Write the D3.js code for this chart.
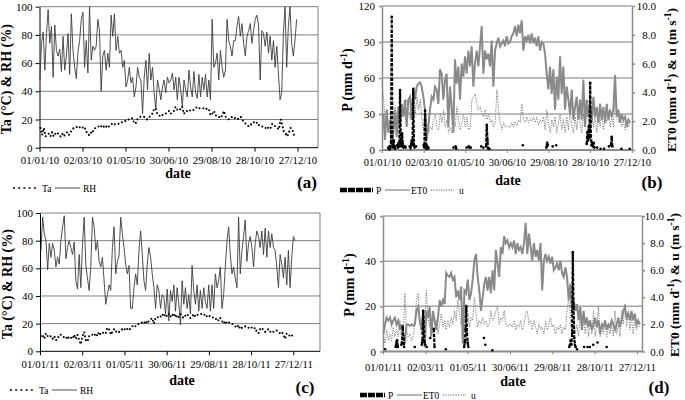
<!DOCTYPE html>
<html><head><meta charset="utf-8">
<script src="https://cdn.jsdelivr.net/npm/d3@7"></script>
<style>
body{margin:0;background:#fff}
svg{display:block}
text{font-family:"Liberation Serif","Times New Roman",serif;fill:#000}
</style>
</head><body>
<svg id="chart" width="685" height="400"></svg>
<script>
// ---------------- DATA ----------------
const tickLabels2010 = ["01/01/10","02/03/10","01/05/10","30/06/10","29/08/10","28/10/10","27/12/10"];
const tickLabels2011 = ["01/01/11","02/03/11","01/05/11","30/06/11","29/08/11","28/10/11","27/12/11"];
const taRhTicks = [0,20,40,60,80,100];
const pTicks2010 = [0,30,60,90,120];
const pTicks2011 = [0,20,40,60];
const et0Ticks = [0,2,4,6,8,10];

// Each daily-ish series: readings in time order, spanning the [first, last] day-of-year given.
const rhA2010 = [48,74,82,55,81,98,74,86,50,87,69,65,70,54,79,55,65,81,52,95,69,57,49,68,76,91,96,57,76,53,100,62,72,69,72,91,83,40,65,69,55,67,57,94,79,95,69,79,67,69,57,62,43,48,57,46,50,36,43,57,50,48,24,50,62,41,67,48,57,39,27,48,42,34,43,48,39,50,46,
 48,53,41,50,34,50,41,29,48,41,36,55,43,36,54,39,35,52,36,50,41,52,36,48,34,91,57,60,67,48,69,57,50,55,91,76,72,65,76,76,86,93,79,88,74,65,79,83,88,74,83,91,94,87,48,83,81,72,82,67,79,62,76,57,72,53,34,39,81,100,57,86,100,74,65,76,91];
const rhA2010Days = [0.5, 358.8];
const taA2010 = [14,9,14,8,9,10,8,11,8,10,11,9,8,10,8,10,11,9,11,13,14,14,15,14,15,14,15,13,10,9,11,10,13,14,15,15,16,14,15,14,16,15,16,17,16,17,17,17,18,18,18,19,20,20,20,21,18,17,20,21,22,22,22,21,20,21,23,24,27,28,24,23,22,23,24,24,25,26,
 24,25,26,29,27,28,27,29,24,26,26,27,26,26,27,28,29,28,28,28,28,27,28,27,23,24,26,23,22,22,21,23,26,22,21,20,21,22,21,21,20,21,22,20,18,17,16,15,16,18,18,17,18,16,15,15,14,14,13,15,14,17,16,15,14,13,20,16,11,10,8,11,14,13,9,8];
const taA2010Days = [1.4, 357.4];

const et0B2010 = [2.5,0.7,2.8,1.2,2.1,0.5,1.2,2.8,0.9,3.0,1.6,3.2,2.3,3.5,1.6,3.5,3.7,2.1,4.2,3.5,4.4,4.6,4.7,4.4,3.7,2.8,0.7,1.6,2.8,3.7,3.5,4.4,4.2,3.2,5.6,5.3,3.5,4.9,5.3,1.6,4.4,3.0,1.2,6.3,4.6,5.8,3.5,6.0,5.1,6.5,5.3,6.9,5.8,7.2,4.4,6.0,6.9,5.8,7.2,8.6,5.3,6.9,6.3,6.7,5.8,7.6,4.4,6.9,7.4,7.8,7.2,7.4,7.6,7.2,7.9,7.4,
 7.5,7.9,8.1,8.6,7.9,8.7,8.1,9.0,6.9,7.9,7.6,8.0,7.4,8.1,7.4,7.8,7.2,7.9,6.9,7.5,7.4,6.7,5.3,4.2,5.8,3.9,5.6,2.8,5.1,3.5,6.5,3.9,5.8,2.8,4.4,3.5,2.5,4.2,2.1,3.0,3.7,2.1,3.5,2.1,4.9,1.6,3.5,2.3,3.2,1.9,3.7,2.3,3.0,1.9,3.2,2.1,3.0,1.9,3.2,2.1,2.8,2.3,2.8,5.2,2.3,2.8,1.9,2.5,2.1,2.3,1.6,2.1,1.9];
const et0B2010Days = [1.9, 357.5];
const uB2010 = [4.6,3.5,1.6,2.8,1.2,2.3,1.2,1.6,3.0,1.9,2.8,2.1,3.2,2.3,3.0,3.5,2.8,2.1,3.5,3.9,2.5,3.7,2.8,3.5,2.1,1.4,2.5,1.9,1.2,1.6,1.4,2.1,2.5,1.6,1.4,2.5,1.9,2.8,1.6,2.1,1.2,1.6,1.2,2.1,1.6,3.0,2.1,1.4,1.9,2.5,1.6,2.3,1.4,1.6,3.5,3.7,3.9,3.2,2.8,3.0,2.5,2.3,2.8,2.1,2.5,1.9,2.1,1.6,1.9,4.2,2.8,1.9,1.4,1.9,1.6,1.7,1.6,
 1.6,1.9,1.6,2.0,1.7,2.1,1.9,3.2,2.1,1.9,2.3,1.9,2.2,2.0,2.3,1.9,2.3,1.7,2.1,1.9,2.3,1.4,2.8,1.9,1.2,2.1,1.6,2.3,1.2,1.9,2.5,1.4,2.1,1.2,2.3,1.4,2.8,1.6,1.2,2.3,1.4,2.8,1.9,1.2,2.5,1.6,3.2,2.1,1.4,2.5,1.6,2.3,1.2,2.5,1.6,2.8,1.4,2.3,1.9,2.5,1.6,2.3,1.6,3.7,2.3,1.9,2.3,1.6,2.1,1.4,1.9,1.6,1.9];
const uB2010Days = [0, 357.5];
// precipitation events: [day of year, mm]
const pB2010 = [[9,2],[10,1],[11,3],[12,2],[13,6],[14,111],[15,4],[16,2],[17,8],[18,3],[19,1],[22,4],[23,2],[24,6],[25,3],[26,50],[27,8],[28,3],[29,14],[30,5],[31,2],[33,3],[34,2],[40,3],[41,2],[42,5],[43,8],[44,4],[45,51],[46,5],[47,2],[49,3],[60,4],[61,2],[62,33],[63,10],[64,2],[65,3],[66,1],[67,2],[103,2],[106,3],[107,1],[122,2],[125,3],[126,2],[128,2],[143,3],[146,2],[150,3],[151,21],[152,8],[153,1],[155,1],[203,4],[237,2],[238,6],[239,4],[246,3],[251,4],[295,5],[296,15],[297,8],[298,20],[299,10],[300,56],[301,12],[302,4],[303,6],[304,3],[305,6],[306,2],[310,2],[315,1],[320,1],[327,3],[330,4],[331,11],[332,3],[345,1],[357,1]];

const rhC2011 = [73,97,85,80,59,78,68,78,73,61,68,63,80,90,98,67,75,80,75,70,79,51,45,70,46,78,97,63,53,44,61,97,90,73,80,65,61,68,51,34,41,48,44,75,90,56,65,69,97,85,75,63,56,62,31,31,46,56,48,73,87,70,51,44,63,75,68,56,46,31,48,44,31,41,39,27,45,22,44,36,
 48,29,46,34,19,51,34,46,31,41,27,62,44,34,48,29,44,31,46,36,31,48,29,48,31,56,46,51,61,31,41,61,80,90,70,56,61,53,46,97,56,73,83,95,65,78,83,75,61,78,87,83,75,87,70,89,68,87,75,85,75,73,61,46,70,63,53,68,48,73,46,68,83,80];
const rhC2011Days = [1.4, 362.5];
const taC2011 = [11,12,9,13,11,10,11,9,11,8,9,12,12,11,10,9,11,9,10,9,12,9,12,8,5,11,14,8,7,11,12,12,11,13,11,14,12,13,14,13,17,16,12,14,16,14,15,14,15,16,15,17,16,15,17,18,19,18,19,20,20,21,20,22,20,22,23,24,20,24,25,24,25,27,25,27,25,27,25,27,
 25,27,24,25,27,25,24,26,27,25,24,25,27,25,26,27,27,27,26,27,25,26,25,25,24,23,24,22,24,22,20,22,20,21,20,20,19,18,17,19,16,17,17,18,17,17,18,17,16,17,14,13,16,17,15,14,15,16,14,15,14,14,15,14,13,14,12,9,13,12,11,12,9];
const taC2011Days = [1.4, 360.1];

const et0D2011 = [1.3,2.0,2.5,2.3,2.5,2.0,2.3,2.5,2.0,2.3,1.6,2.0,1.3,0.6,2.0,2.0,1.9,2.0,1.9,2.0,3.0,3.3,2.3,1.6,3.0,0.3,3.0,2.5,3.3,1.1,3.0,2.3,1.6,2.5,3.8,3.3,3.8,3.5,5.8,5.6,5.5,5.8,5.3,5.5,4.0,4.5,3.8,4.8,0.6,4.5,4.3,5.3,3.8,4.3,5.3,6.7,7.2,5.5,4.5,3.0,4.0,5.0,5.5,4.5,5.5,4.3,6.0,4.5,7.5,6.5,5.5,7.7,7.2,8.5,8.0,8.2,7.7,
 8.0,7.7,8.2,7.2,8.0,7.5,7.7,7.2,8.0,9.5,7.2,8.7,7.7,6.7,8.0,7.0,7.5,6.7,8.0,4.5,6.7,7.2,6.7,7.0,6.5,7.0,6.0,6.2,6.5,6.0,6.7,5.8,5.5,6.2,5.5,3.8,5.0,2.8,3.8,3.0,3.5,2.3,3.3,1.6,3.0,2.0,2.5,1.8,2.3,1.6,2.0,2.5,1.8,2.3,1.3,2.0,1.8,2.3,1.6,2.0,1.8,2.3,2.0,1.6,2.0,2.5,1.8,2.3,3.0,3.3,2.5,2.8,2.3,3.0,2.3,2.8,2.0,2.3,2.0];
const et0D2011Days = [0.5, 364];
const uD2011 = [1.1,0.6,1.6,0.8,1.3,0.8,1.8,1.1,1.6,1.1,2.3,0.8,1.3,4.3,1.6,1.1,1.3,0.8,1.1,2.0,3.8,4.3,2.3,1.3,3.0,2.0,4.5,2.5,1.8,1.6,3.0,2.0,2.3,1.3,2.0,2.8,1.8,2.3,1.6,2.3,1.8,2.5,2.0,3.0,2.3,3.8,2.8,2.0,3.0,2.3,3.5,3.0,1.8,2.5,2.3,4.0,2.8,1.8,2.3,2.0,2.5,2.0,2.3,1.8,2.0,3.0,2.3,2.5,3.0,3.3,2.0,2.5,2.3,3.0,2.0,1.8,2.0,
 2.0,1.8,2.3,1.6,2.0,1.8,2.3,1.6,2.0,2.8,3.0,2.0,2.3,1.6,2.3,1.8,1.3,2.0,1.6,1.8,1.3,2.3,1.6,2.0,2.5,1.8,2.0,1.3,1.8,1.6,2.0,1.3,1.8,1.6,3.0,4.0,2.5,1.1,2.3,1.3,2.0,1.1,3.0,1.6,2.3,1.3,2.5,1.1,2.3,1.3,3.0,1.1,1.8,3.3,1.1,2.0,1.3,2.3,1.1,1.8,1.3,2.0,1.1,3.0,1.3,2.0,1.1,3.0,2.0,3.5,1.8,3.0,1.6,2.5,1.3,2.3,1.6,2.0,1.8];
const uD2011Days = [0.5, 364];
const pD2011 = [[3,1],[18,2],[19,4],[20,5],[21,2],[26,3],[27,4],[28,11],[29,6],[30,2],[45,2],[55,3],[56,5],[57,18],[58,9],[59,4],[60,3],[62,2],[67,6],[72,10],[73,2],[89,1],[115,2],[116,4],[117,10],[118,20],[119,8],[120,4],[121,2],[143,6],[145,3],[155,0.5],[264,2],[265,3],[266,5],[267,3],[268,8],[269,44],[270,20],[271,6],[272,3],[273,2],[275,1],[285,2],[290,2],[293,2],[298,3],[304,4],[317,2]];

// ---------------- HELPERS ----------------
const FONT = "'Liberation Serif','Times New Roman',serif";
const svg = d3.select("#chart");
svg.append("rect").attr("width",685).attr("height",400).attr("fill","#fff");
const parseLbl = d3.timeParse("%d/%m/%y");
const fmtLbl = d3.timeFormat("%d/%m/%y");
const DAY = 864e5;
function spread(vals, days, year){
  const t0 = new Date(year,0,1).getTime(), n = vals.length;
  return vals.map((v,i)=>({date:new Date(t0+(days[0]+(days[1]-days[0])*i/(n-1))*DAY), v}));
}
function events(pairs, year){
  const t0 = new Date(year,0,1).getTime();
  return pairs.map(([d,v])=>({day:d, date:new Date(t0+d*DAY), v}));
}
function segments(ev){
  const segs=[]; let cur=[];
  ev.forEach((e,i)=>{ if(i>0 && e.day-ev[i-1].day>1){segs.push(cur);cur=[];} cur.push(e); });
  if(cur.length) segs.push(cur);
  return segs;
}
function styleAxis(g, size){
  g.attr("font-family", FONT).attr("font-size", size);
  g.selectAll("text").attr("font-family", FONT).style("font-family", FONT, "important")
    .style("font-size", size+"px").attr("fill","#000");
}
function rotTitle(g, x, y, parts, size){
  const t = g.append("text").attr("transform",`translate(${x},${y}) rotate(-90)`)
    .attr("text-anchor","middle").style("font-weight","bold").style("font-size",size+"px");
  parts.forEach(p=>{
    if(p.sup){ t.append("tspan").attr("dy",-5).style("font-size",(size-4)+"px").text(p.t); }
    else if(p.after){ t.append("tspan").attr("dy",5).text(p.t); }
    else t.append("tspan").text(p.t);
  });
}

// ---------------- PANEL (a)/(c): Ta & RH ----------------
function taRhPanel(L, labels, rh, ta, letter){
  const g = svg.append("g");
  const lblDates = labels.map(parseLbl);
  const x = d3.scaleTime().domain([lblDates[0], lblDates[lblDates.length-1]]).range([L.x0, L.xLast]);
  const y = d3.scaleLinear().domain([0,100]).range([L.yB, L.yT]);
  taRhTicks.filter(v=>v>0).forEach(v=>{
    g.append("line").attr("x1",L.x0).attr("x2",L.xR).attr("y1",y(v)).attr("y2",y(v))
      .attr("stroke","#7f7f7f").attr("stroke-width",1);
  });
  g.append("line").attr("x1",L.xR).attr("x2",L.xR).attr("y1",L.yT).attr("y2",L.yB).attr("stroke","#7f7f7f");
  const ya = g.append("g").attr("transform",`translate(${L.x0},0)`)
    .call(d3.axisLeft(y).tickValues(taRhTicks).tickSize(4).tickSizeOuter(0).tickPadding(3));
  ya.select(".domain").attr("stroke","#000");
  styleAxis(ya, 11);
  const xa = g.append("g").attr("transform",`translate(0,${L.yB})`)
    .call(d3.axisBottom(x).tickValues(lblDates).tickFormat(fmtLbl).tickSize(4).tickSizeOuter(0).tickPadding(5));
  xa.select(".domain").remove();
  styleAxis(xa, 10.8);
  g.append("line").attr("x1",L.x0).attr("x2",L.xR).attr("y1",L.yB).attr("y2",L.yB).attr("stroke","#000");
  const line = d3.line().x(d=>x(d.date)).y(d=>y(d.v));
  g.append("path").datum(rh).attr("d",line).attr("fill","none").attr("stroke","#3c3c3c").attr("stroke-width",0.9);
  g.append("path").datum(ta).attr("d",line).attr("fill","none").attr("stroke","#000")
    .attr("stroke-width",2.1).attr("stroke-linecap","round").attr("stroke-dasharray","0,3.9");
  rotTitle(g, L.titleX, (L.yT+L.yB)/2+2, [{t:"Ta (°C) & RH (%)"}], 14);
  g.append("text").attr("x",L.dateX).attr("y",L.dateY).attr("text-anchor","middle")
    .style("font-weight","bold").style("font-size","14px").text("date");
  g.append("text").attr("x",L.letterX).attr("y",L.letterY).attr("text-anchor","middle")
    .style("font-weight","bold").style("font-size","17px").text(letter);
  // legend
  const ly = L.legY;
  g.append("line").attr("x1",L.legX).attr("x2",L.legX+26).attr("y1",ly).attr("y2",ly)
    .attr("stroke","#000").attr("stroke-width",1.6).attr("stroke-dasharray","2,3.2");
  g.append("text").attr("x",L.legX+29).attr("y",ly+3.5).style("font-size","9.5px").text("Ta");
  g.append("line").attr("x1",L.legX+42).attr("x2",L.legX+67).attr("y1",ly).attr("y2",ly)
    .attr("stroke","#3c3c3c").attr("stroke-width",0.9);
  g.append("text").attr("x",L.legX+70).attr("y",ly+3.5).style("font-size","9.5px").text("RH");
}

// ---------------- PANEL (b)/(d): P, ET0, u ----------------
function pEtPanel(L, labels, pTicks, pMax, p, et0, u, letter){
  const g = svg.append("g");
  const lblDates = labels.map(parseLbl);
  const x = d3.scaleTime().domain([lblDates[0], lblDates[lblDates.length-1]]).range([L.x0, L.xLast]);
  const yP = d3.scaleLinear().domain([0,pMax]).range([L.yB, L.yT]);
  const yE = d3.scaleLinear().domain([0,10]).range([L.yB, L.yT]);
  pTicks.filter(v=>v>0).forEach(v=>{
    g.append("line").attr("x1",L.x0).attr("x2",L.xR).attr("y1",yP(v)).attr("y2",yP(v))
      .attr("stroke","#a6a6a6").attr("stroke-width",1.5);
  });
  const ya = g.append("g").attr("transform",`translate(${L.x0},0)`)
    .call(d3.axisLeft(yP).tickValues(pTicks).tickSize(3).tickSizeOuter(0).tickPadding(4));
  ya.selectAll("line,.domain").attr("stroke","#8c8c8c").attr("stroke-width",1.5);
  styleAxis(ya, 11);
  const yr = g.append("g").attr("transform",`translate(${L.xR},0)`)
    .call(d3.axisRight(yE).tickValues(et0Ticks).tickFormat(d3.format(".1f")).tickSize(3).tickSizeOuter(0).tickPadding(4));
  yr.selectAll("line,.domain").attr("stroke","#8c8c8c").attr("stroke-width",1.5);
  styleAxis(yr, 11);
  yr.selectAll("text").attr("text-anchor","end").attr("x",L.rLblX-L.xR);
  const xa = g.append("g").attr("transform",`translate(0,${L.yB})`)
    .call(d3.axisBottom(x).tickValues(lblDates).tickFormat(fmtLbl).tickSize(3).tickSizeOuter(0).tickPadding(L.xPad));
  xa.select(".domain").remove();
  xa.selectAll("line").attr("stroke","#8c8c8c");
  styleAxis(xa, 10.5);
  g.append("line").attr("x1",L.x0).attr("x2",L.xR).attr("y1",L.yB).attr("y2",L.yB).attr("stroke","#8c8c8c").attr("stroke-width",2);
  const lineE = d3.line().x(d=>x(d.date)).y(d=>yE(d.v));
  g.append("path").datum(u).attr("d",lineE).attr("fill","none").attr("stroke","#7a7a7a")
    .attr("stroke-width",1).attr("stroke-dasharray","1.2,1.3");
  g.append("path").datum(et0).attr("d",lineE).attr("fill","none").attr("stroke","#8a8a8a").attr("stroke-width",2);
  const lineP = d3.line().x(d=>x(d.date)).y(d=>yP(d.v));
  segments(p).forEach(s=>{
    if(s.length>1) g.append("path").datum(s).attr("d",lineP).attr("fill","none").attr("stroke","#000")
      .attr("stroke-width",2.2).attr("stroke-dasharray","3.5,1.3");
  });
  g.selectAll(null).data(p).enter().append("circle").attr("cx",d=>x(d.date)).attr("cy",d=>yP(d.v))
    .attr("r",1.3).attr("fill","#000");
  rotTitle(g, L.titleX, L.titleY, [{t:"P (mm d"},{t:"-1",sup:true},{t:")",after:true}], 14);
  rotTitle(g, L.rTitleX, L.rTitleY, [{t:"ET0 (mm d"},{t:"-1",sup:true},{t:") & u (m s",after:true},{t:"-1",sup:true},{t:")",after:true}], 13.5);
  g.append("text").attr("x",L.dateX).attr("y",L.dateY).attr("text-anchor","middle")
    .style("font-weight","bold").style("font-size","14px").text("date");
  g.append("text").attr("x",L.letterX).attr("y",L.letterY).attr("text-anchor","middle")
    .style("font-weight","bold").style("font-size","17px").text(letter);
  // legend
  const ly = L.legY, lx = L.legX;
  g.append("line").attr("x1",lx).attr("x2",lx+L.barW).attr("y1",ly).attr("y2",ly)
    .attr("stroke","#000").attr("stroke-width",4.5).attr("stroke-dasharray","7,1");
  g.append("text").attr("x",lx+L.barW+3).attr("y",ly+3.5).style("font-size","9.5px").text("P");
  const l2 = lx+L.barW+12;
  g.append("line").attr("x1",l2).attr("x2",l2+25).attr("y1",ly).attr("y2",ly).attr("stroke","#6a6a6a").attr("stroke-width",1);
  g.append("text").attr("x",l2+26).attr("y",ly+3.5).style("font-size","9.5px").text("ET0");
  g.append("line").attr("x1",l2+46).attr("x2",l2+69).attr("y1",ly).attr("y2",ly)
    .attr("stroke","#555").attr("stroke-width",1).attr("stroke-dasharray","1.2,1.3");
  g.append("text").attr("x",l2+74).attr("y",ly+3.5).style("font-size","9.5px").text("u");
}

taRhPanel({x0:39.5,xLast:297.5,xR:318,yT:6.7,yB:147.7,titleX:11,dateX:178,dateY:178,letterX:307,letterY:188,legX:13,legY:188},
  tickLabels2010, spread(rhA2010,rhA2010Days,2010), spread(taA2010,taA2010Days,2010), "(a)");
taRhPanel({x0:40,xLast:293.3,xR:320,yT:213,yB:351.3,titleX:12,dateX:182,dateY:385,letterX:305,letterY:393,legX:10,legY:390},
  tickLabels2011, spread(rhC2011,rhC2011Days,2011), spread(taC2011,taC2011Days,2011), "(c)");
pEtPanel({x0:382,xLast:631.8,xR:632,yT:6,yB:150,titleX:352,titleY:80,rTitleX:676,rTitleY:80,rLblX:656,xPad:6,
  dateX:508,dateY:185,letterX:652,letterY:188,legX:340,legY:190,barW:33},
  tickLabels2010, pTicks2010, 120, events(pB2010,2010), spread(et0B2010,et0B2010Days,2010), spread(uB2010,uB2010Days,2010), "(b)");
pEtPanel({x0:383,xLast:637,xR:642,yT:216,yB:351.5,titleX:354,titleY:285,rTitleX:679,rTitleY:285,rLblX:664,xPad:9,
  dateX:513,dateY:386,letterX:659,letterY:393,legX:360,legY:395,barW:25},
  tickLabels2011, pTicks2011, 60, events(pD2011,2011), spread(et0D2011,et0D2011Days,2011), spread(uD2011,uD2011Days,2011), "(d)");
</script>
</body></html>
